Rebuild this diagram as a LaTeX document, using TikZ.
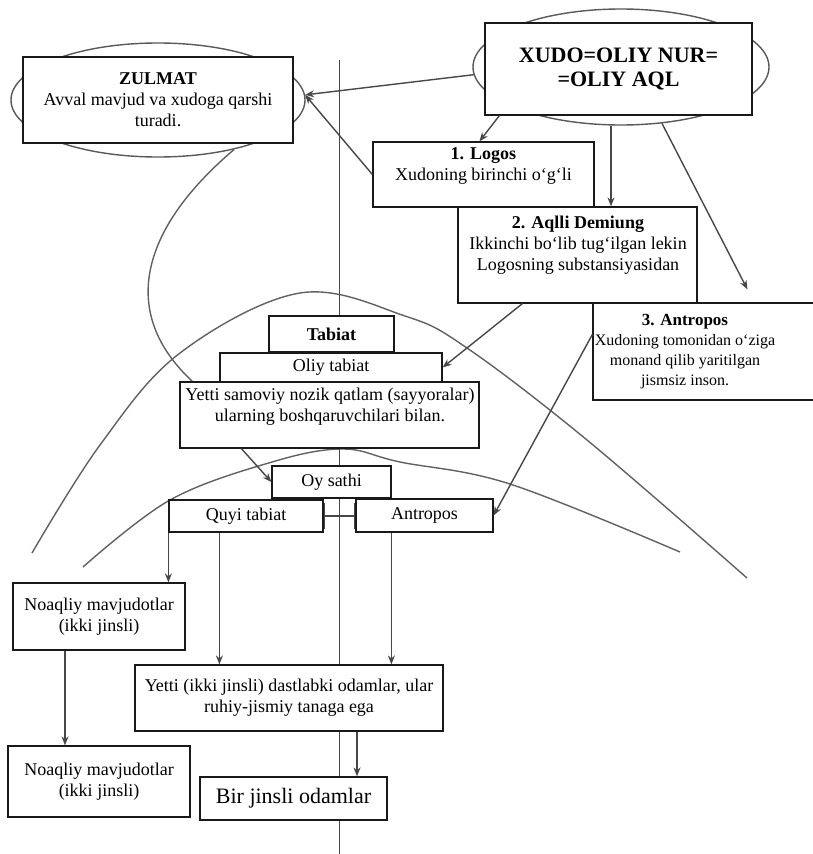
\documentclass[tikz,border=0pt]{standalone}
\usepackage{fontspec}
\setmainfont{Liberation Serif}
\usetikzlibrary{arrows.meta,calc,shapes.geometric}
\begin{document}
\begin{tikzpicture}[x=1pt,y=-1pt,
  box/.style={draw=black!90,line width=1.2pt,fill=white,inner sep=0pt},
  txt/.style={align=center,inner sep=0pt,font=\fontsize{18}{21}\selectfont},
  ell/.style={ellipse,draw=black!65,line width=1.4pt,inner sep=0pt},
  conn/.style={draw=black!72,line width=1.4pt},
  arr/.style={conn,-{Stealth[length=9pt,width=7pt]}},
  crv/.style={draw=black!62,line width=1.4pt},
]
\useasboundingbox[fill=white] (0,0) rectangle (813,854);

% ellipses behind the top boxes
\node[ell,minimum width=294pt,minimum height=114pt] (zulE) at (158,100) {};
\node[ell,minimum width=296pt,minimum height=116pt] (xudoE) at (621,67) {};

% free ends of the central axis
\coordinate (vt) at (339.5,60);
\coordinate (vb) at (339.5,854);

% curves
\draw[crv] (zulE.-33) .. controls (145,225) and (115,310) .. (193,382);
\draw[crv] plot[smooth,tension=0.6] coordinates {(32,553) (100,445) (180,353) (300,293) (405,316) (467,348) (587,440) (747,578)};
\draw[crv] plot[smooth,tension=0.6] coordinates {(83,567) (170,500) (272,462) (343,449) (400,462) (510,484) (680,552)};

% central axis
\draw[conn] (vt) -- (vb);

% boxes
\node[box,txt,minimum width=270pt,minimum height=86pt] (zul) at (158,100)
  {\textbf{ZULMAT}\\Avval mavjud va xudoga qarshi\\turadi.};
\node[box,txt,minimum width=267pt,minimum height=92pt,font=\bfseries\fontsize{22}{24}\selectfont] (xudo) at (618.5,69)
  {XUDO=OLIY NUR=\\=OLIY AQL};
\node[box,minimum width=221pt,minimum height=65pt] (logos) at (483.5,174.5) {};
\node[box,minimum width=239pt,minimum height=96pt] (aqlli) at (577.5,255) {};
\node[box,minimum width=237pt,minimum height=97pt] (box3) at (711.5,351.5) {};
\node[box,txt,minimum width=125pt,minimum height=36pt] (tabiat) at (331.5,334) {\textbf{Tabiat}};
\node[box,txt,minimum width=222pt,minimum height=29pt] (oliy) at (331,367.5) {Oliy tabiat};
\node[box,minimum width=299pt,minimum height=66pt] (yetti) at (329.5,415) {};
\node[box,txt,minimum width=119pt,minimum height=32pt] (oy) at (331.5,482) {Oy sathi};
\node[box,txt,minimum width=154pt,minimum height=32pt] (quyi) at (246,516) {Quyi tabiat};
\node[box,txt,minimum width=137pt,minimum height=33pt] (antr) at (424.5,515.5) {Antropos};
\node[box,txt,minimum width=172pt,minimum height=67pt] (noaq1) at (99,616.5) {Noaqliy mavjudotlar\\(ikki jinsli)};
\node[box,txt,minimum width=308pt,minimum height=66pt] (yetti2) at (289,698)
  {Yetti (ikki jinsli) dastlabki odamlar, ular\\ruhiy-jismiy tanaga ega};
\node[box,txt,minimum width=182pt,minimum height=71pt] (noaq2) at (99,781.5) {Noaqliy mavjudotlar\\(ikki jinsli)};
\node[box,txt,minimum width=187pt,minimum height=43pt,font=\fontsize{22}{24}\selectfont] (bir) at (293.5,798.5) {Bir jinsli odamlar};

% texts of boxes whose text is not centred
\node[txt] (logosT) at (483.5,166) {\textbf{1. Logos}\\Xudoning birinchi o‘g‘li};
\node[txt] (aqlliT) at (578,245) {\textbf{2. Aqlli Demiung}\\Ikkinchi bo‘lib tug‘ilgan lekin\\Logosning substansiyasidan};
\node[txt,font=\fontsize{16}{20}\selectfont] (box3T) at (685,352) {\textbf{\fontsize{17}{20}\selectfont 3. Antropos}\\Xudoning tomonidan o‘ziga\\monand qilib yaritilgan\\jismsiz inson.};
\node[txt] (yettiT) at (330,407) {Yetti samoviy nozik qatlam (sayyoralar)\\ularning boshqaruvchilari bilan.};

% connectors
\draw[arr] (xudoE.183) -- (zulE.2);
\draw[arr] (logos.west) -- (zulE.2);
\draw[arr] ([xshift=15pt]xudo.south west) -- ([xshift=107pt]logos.north west);
\draw[arr] ([xshift=-10pt]xudoE.south) -- ([xshift=-10pt]xudoE.south |- aqlli.north);
\draw[arr] (xudoE.-54) -- ($(box3.north west)+(155,-13)$);
\draw[arr] ([xshift=65pt]aqlli.south west) -- (oliy.east);
\draw[arr] ([xshift=62pt]yetti.south west) -- (oy.west);
\draw[arr] ([yshift=-32pt]box3.north west) -- (antr.east);
\draw[conn,{Bar[width=26pt]}-{Bar[width=26pt]}] (quyi.east) -- (quyi.east -| antr.west);
\draw[arr] (quyi.south west) -- (quyi.south west |- noaq1.north);
\draw[arr] ([xshift=51pt]quyi.south west) -- ([xshift=51pt]quyi.south west |- yetti2.north);
\draw[arr] ([xshift=36pt]antr.south west) -- ([xshift=36pt]antr.south west |- yetti2.north);
\draw[arr] ([xshift=-34pt]noaq1.south) -- ([xshift=-34pt]noaq1.south |- noaq2.north);
\draw[arr] ([xshift=68pt]yetti2.south) -- ([xshift=68pt]yetti2.south |- bir.north);
\end{tikzpicture}
\end{document}
